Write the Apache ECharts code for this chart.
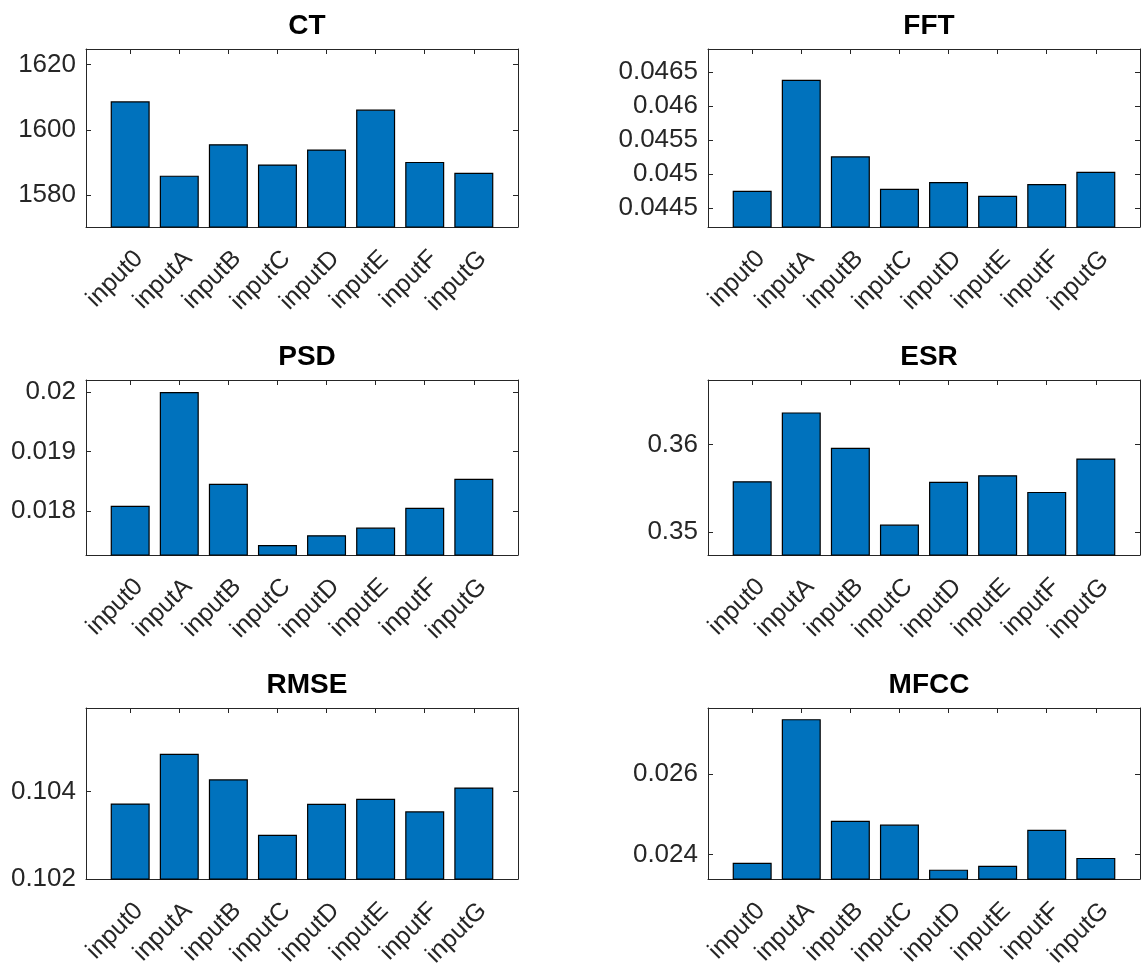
<!DOCTYPE html>
<html>
<head>
<meta charset="utf-8">
<script src="https://cdn.jsdelivr.net/npm/echarts@6/dist/echarts.min.js"></script>
<style>
html,body{margin:0;padding:0;background:#fff;}
#chart{width:1142px;height:970px;}
</style>
</head>
<body>
<div id="chart"></div>
<script>
const categories = ['input0','inputA','inputB','inputC','inputD','inputE','inputF','inputG'];

const ctValues   = [1608.7, 1586.0, 1595.6, 1589.4, 1594.0, 1606.2, 1590.2, 1586.9];
const fftValues  = [0.044754, 0.046387, 0.045260, 0.044784, 0.044882, 0.044681, 0.044853, 0.045034];
const psdValues  = [0.018090, 0.020000, 0.018461, 0.017433, 0.017596, 0.017725, 0.018056, 0.018545];
const esrValues  = [0.355817, 0.363650, 0.359620, 0.350875, 0.355741, 0.356502, 0.354601, 0.358403];
const rmseValues = [0.103725, 0.104855, 0.104275, 0.103011, 0.103717, 0.103829, 0.103546, 0.104089];
const mfccValues = [0.023798, 0.027360, 0.024842, 0.024745, 0.023628, 0.023725, 0.024615, 0.023919];

const ctTicks   = [1580, 1600, 1620];
const fftTicks  = [0.0445, 0.045, 0.0455, 0.046, 0.0465];
const psdTicks  = [0.018, 0.019, 0.02];
const esrTicks  = [0.35, 0.36];
const rmseTicks = [0.102, 0.104];
const mfccTicks = [0.024, 0.026];

const ctRange   = [1570.3, 1624.7];
const fftRange  = [0.04422, 0.04684];
const psdRange  = [0.017264, 0.020202];
const esrRange  = [0.347414, 0.36734];
const rmseRange = [0.102, 0.1059];
const mfccRange = [0.023393, 0.027636];

const panels = [
  {title:'CT',   values:ctValues,   ticks:ctTicks,   range:ctRange},
  {title:'FFT',  values:fftValues,  ticks:fftTicks,  range:fftRange},
  {title:'PSD',  values:psdValues,  ticks:psdTicks,  range:psdRange},
  {title:'ESR',  values:esrValues,  ticks:esrTicks,  range:esrRange},
  {title:'RMSE', values:rmseValues, ticks:rmseTicks, range:rmseRange},
  {title:'MFCC', values:mfccValues, ticks:mfccTicks, range:mfccRange}
];

const colLeft = [86, 708];
const rowTop = [49, 380, 708];
const rowH = [178, 175, 175];
const gridW = 432;
const FONT = "'Liberation Sans', Arial, Helvetica, sans-serif";
const AX = '#262626';
const catPos = categories.map((c, i) => i + 1);

const grids = [], xAxes = [], yAxes = [], series = [], titles = [];
panels.forEach((p, k) => {
  const r = Math.floor(k / 2), c = k % 2;
  grids.push({left: colLeft[c], top: rowTop[r], width: gridW, height: rowH[r], containLabel: false});
  const lineStyle = {color: AX, width: 1};
  xAxes.push({
    type: 'value', gridIndex: k, position: 'bottom', min: 0.1, max: 8.9,
    axisLine: {show: true, onZero: false, lineStyle},
    axisTick: {show: true, inside: true, length: 5, lineStyle, customValues: catPos},
    splitLine: {show: false},
    axisLabel: {
      show: true, customValues: catPos, rotate: 45, align: 'right', verticalAlign: 'top',
      margin: 19, color: AX, fontSize: 25, fontFamily: FONT,
      formatter: v => categories[Math.round(v) - 1]
    }
  });
  xAxes.push({
    type: 'value', gridIndex: k, position: 'top', min: 0.1, max: 8.9,
    axisLine: {show: true, onZero: false, lineStyle},
    axisTick: {show: true, inside: true, length: 5, lineStyle, customValues: catPos},
    splitLine: {show: false}, axisLabel: {show: false}
  });
  yAxes.push({
    type: 'value', gridIndex: k, position: 'left', min: p.range[0], max: p.range[1],
    axisLine: {show: true, onZero: false, lineStyle},
    axisTick: {show: true, inside: true, length: 5, lineStyle, customValues: p.ticks},
    splitLine: {show: false},
    axisLabel: {show: true, customValues: p.ticks, margin: 10, color: AX, fontSize: 26, fontFamily: FONT,
      formatter: v => String(v)}
  });
  yAxes.push({
    type: 'value', gridIndex: k, position: 'right', min: p.range[0], max: p.range[1],
    axisLine: {show: true, onZero: false, lineStyle},
    axisTick: {show: true, inside: true, length: 5, lineStyle, customValues: p.ticks},
    splitLine: {show: false}, axisLabel: {show: false}
  });
  series.push({
    type: 'bar', xAxisIndex: 2 * k, yAxisIndex: 2 * k, barWidth: 39,
    data: p.values.map((v, i) => [catPos[i], v]),
    itemStyle: {color: '#0072BD', borderColor: '#000000', borderWidth: 1.2},
    clip: true, silent: true, animation: false
  });
  titles.push({
    text: p.title, left: colLeft[c] + gridW / 2, top: rowTop[r] - 42, textAlign: 'center',
    textStyle: {fontSize: 28, fontWeight: 'bold', color: '#000', fontFamily: FONT}
  });
});

const chart = echarts.init(document.getElementById('chart'), null, {renderer: 'canvas'});
chart.setOption({
  animation: false,
  title: titles,
  grid: grids,
  xAxis: xAxes,
  yAxis: yAxes,
  series: series
});
</script>
</body>
</html>
